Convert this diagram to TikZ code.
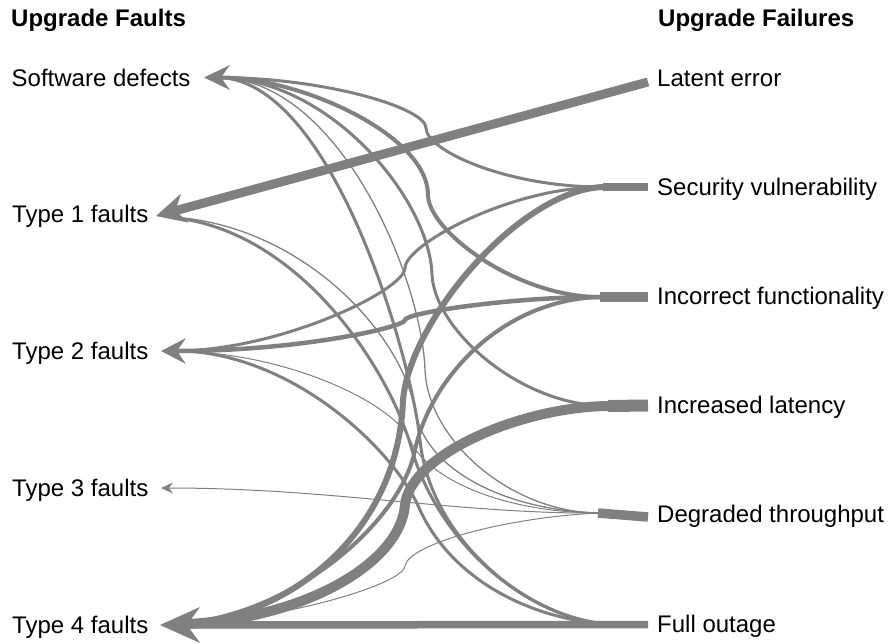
\documentclass[tikz,border=0pt]{standalone}
\usepackage{fontspec}
\setmainfont{Liberation Sans}
\usetikzlibrary{arrows.meta}
\definecolor{flowgray}{RGB}{128,128,128}
\begin{document}
\begin{tikzpicture}[x=1pt,y=-1pt,
  flow/.style={draw=flowgray,line width=#1},
  into/.style={shorten >=#1},
  headtip/.style n args={3}{-{Stealth[length=#1,width=#2,inset=#3,line width=0pt]}},
  lab/.style={anchor=base west,inner sep=0pt,font=\fontsize{24}{28}\selectfont},
  head/.style={anchor=base west,inner sep=0pt,font=\fontsize{24}{28}\selectfont\bfseries}]
\useasboundingbox (0,0) rectangle (890,643);

% column headings
\node[head] (hfault) at (11,26.7) {Upgrade Faults};
\node[head] (hfail) at (658,26.7) {Upgrade Failures};

% faults (left column)
\node[lab] (sd) at (11.5,86) {Software defects};
\node[lab] (t1) at (12,222.8) {Type 1 faults};
\node[lab] (t2) at (12,359.6) {Type 2 faults};
\node[lab] (t3) at (12,496.4) {Type 3 faults};
\node[lab] (t4) at (12,633.2) {Type 4 faults};

% failures (right column)
\node[lab] (le) at (657,86) {Latent error};
\node[lab] (sv) at (657,195.2) {Security vulnerability};
\node[lab] (if) at (657,304.4) {Incorrect functionality};
\node[lab] (il) at (657,413.6) {Increased latency};
\node[lab] (dt) at (657,522.8) {Degraded throughput};
\node[lab] (fo) at (657,632) {Full outage};

% arrow tips on the fault side
\coordinate (sdP) at (204,77.5);
\coordinate (t1P) at (156,216);
\coordinate (t2P) at (161,351);
\coordinate (t3P) at (161,488);
\coordinate (t4P) at (160,625);

% bundle ports on the failure side
\coordinate (leP) at (648,82);
\coordinate (svP) at (603,187);   \coordinate (svE) at (648,187);
\coordinate (ifP) at (600,297);   \coordinate (ifE) at (648,297);
\coordinate (ilP) at (608,406);   \coordinate (ilE) at (648,405.5);
\coordinate (dtP) at (598,513);   \coordinate (dtE) at (648,517);
\coordinate (foP) at (615,624.5); \coordinate (foE) at (648,624.5);

% merged stubs
\draw[flow=8]    (svP) -- (svE);
\draw[flow=10]   (ifP) -- (ifE);
\draw[flow=12]   (ilP) -- (ilE);
\draw[flow=9.5]  (dtP) -- (dtE);
\draw[flow=7.7]  (foP) -- (foE);

% Latent error
\draw[flow=9,headtip={30pt}{30pt}{10pt}] (leP) -- (t1P);

% Security vulnerability
\draw[flow=3,into=13pt] (svP) .. controls (505,187) and (426,150) .. (426,128)
  .. controls (426,108) and (325,77.5) .. (sdP);
\draw[flow=3,into=13pt] (svP) .. controls (510,187) and (405,245) .. (405,268)
  .. controls (405,290) and (280,351) .. (t2P);
\draw[flow=6,into=22pt] (svP) .. controls (520,190) and (410,320) .. (403,400)
  .. controls (398,540) and (280,620) .. (t4P);

% Incorrect functionality
\draw[flow=4,headtip={26pt}{25pt}{9pt}] (ifP) .. controls (515,297) and (428,230) .. (428,195)
  .. controls (428,135) and (300,77.5) .. (sdP);
\draw[flow=4.5,headtip={25pt}{26pt}{9pt}] (ifP) .. controls (510,297) and (405,313) .. (405,320)
  .. controls (405,327) and (300,351) .. (t2P);
\draw[flow=4,into=22pt] (ifP) .. controls (500,300) and (430,380) .. (415,450)
  .. controls (400,525) and (290,615) .. (t4P);

% Increased latency
\draw[flow=3,into=13pt] (ilP) .. controls (520,406) and (435,330) .. (432,275)
  .. controls (430,200) and (330,77.5) .. (sdP);
\draw[flow=10,into=22pt] (ilP) .. controls (520,407) and (410,455) .. (405,505)
  .. controls (400,565) and (300,620) .. (t4P);

% Degraded throughput
\draw[flow=1.3,into=13pt] (dtP) .. controls (510,512) and (428,440) .. (425,370)
  .. controls (422,280) and (340,77.5) .. (sdP);
\draw[flow=1.3,into=16pt] (dtP) .. controls (505,510) and (425,470) .. (415,410)
  .. controls (400,330) and (300,225) .. (t1P);
\draw[flow=1,into=13pt] (dtP) .. controls (495,512) and (425,475) .. (410,440)
  .. controls (395,405) and (290,352) .. (t2P);
\draw[flow=1,headtip={12pt}{11pt}{4pt}] (dtP) .. controls (460,514) and (330,488) .. (t3P);
\draw[flow=1,into=22pt] (dtP) .. controls (500,518) and (408,545) .. (405,566)
  .. controls (403,585) and (280,620) .. (t4P);

% Full outage
\draw[flow=3,into=13pt] (foP) .. controls (530,622) and (430,540) .. (420,440)
  .. controls (410,350) and (330,77.5) .. (sdP);
\draw[flow=3,into=16pt] (foP) .. controls (530,622) and (440,545) .. (412,450)
  .. controls (390,370) and (300,230) .. (t1P);
\draw[flow=3,into=13pt] (foP) .. controls (540,622) and (455,585) .. (420,510)
  .. controls (395,450) and (290,350) .. (t2P);
\draw[flow=7.5,headtip={40pt}{36pt}{13pt}] (foE) -- (t4P);
\end{tikzpicture}
\end{document}
